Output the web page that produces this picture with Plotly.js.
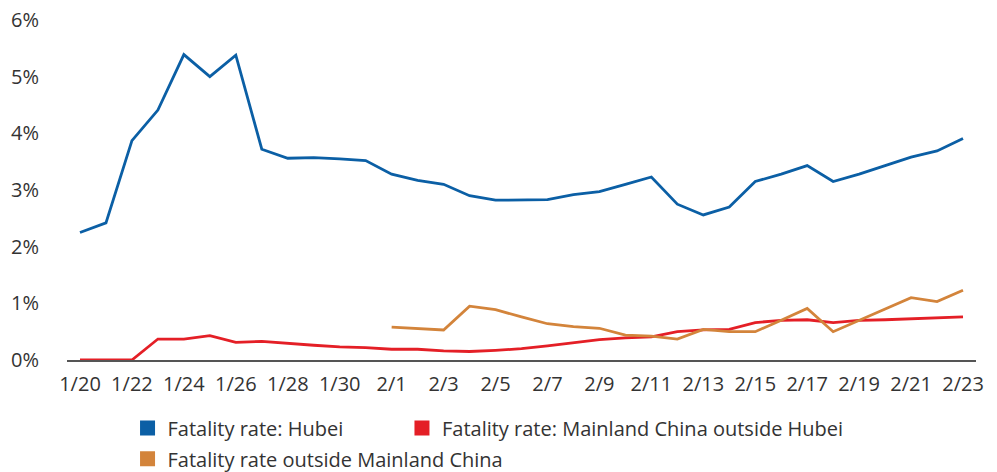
<!DOCTYPE html>
<html lang="en">
<head>
    <meta charset="UTF-8">
    <title>Fatality rates</title>
    <script src="https://cdn.plot.ly/plotly-3.0.1.min.js"></script>
    <style>
        body { margin: 0; padding: 0; background: #fff; }
        #plot { width: 997px; height: 472px; }
    </style>
</head>
<body>
    <div id="plot"></div>
    <script>
        // Dates (one per day)
        const days = ['1/20','1/21','1/22','1/23','1/24','1/25','1/26','1/27','1/28','1/29','1/30','1/31',
                      '2/1','2/2','2/3','2/4','2/5','2/6','2/7','2/8','2/9','2/10','2/11','2/12','2/13',
                      '2/14','2/15','2/16','2/17','2/18','2/19','2/20','2/21','2/22','2/23'];
        const tickDays = ['1/20','1/22','1/24','1/26','1/28','1/30','2/1','2/3','2/5','2/7','2/9','2/11',
                          '2/13','2/15','2/17','2/19','2/21','2/23'];

        // Fatality rate values, in %
        const hubei = [2.25, 2.42, 3.87, 4.41, 5.39, 5.00, 5.38, 3.72, 3.56, 3.57, 3.55, 3.52,
                       3.28, 3.17, 3.10, 2.90, 2.82, 2.82, 2.83, 2.92, 2.97, 3.10, 3.23, 2.75, 2.56,
                       2.70, 3.15, 3.28, 3.43, 3.15, 3.28, 3.43, 3.58, 3.69, 3.91];
        const outsideHubei = [0.0, 0.0, 0.0, 0.37, 0.37, 0.43, 0.31, 0.33, 0.29, 0.26, 0.23, 0.22,
                              0.19, 0.19, 0.16, 0.15, 0.17, 0.20, 0.25, 0.31, 0.36, 0.39, 0.41, 0.50, 0.53,
                              0.54, 0.66, 0.70, 0.71, 0.66, 0.70, 0.71, 0.73, 0.74, 0.76];
        const outsideChina = [null, null, null, null, null, null, null, null, null, null, null, null,
                              0.58, 0.56, 0.53, 0.95, 0.89, 0.76, 0.64, 0.59, 0.56, 0.44, 0.42, 0.37, 0.54,
                              0.50, 0.50, 0.70, 0.91, 0.50, 0.70, 0.91, 1.10, 1.03, 1.23];

        const names = ['Fatality rate: Hubei', 'Fatality rate: Mainland China outside Hubei', 'Fatality rate outside Mainland China'];
        const colors = ['#0b5fa5', '#e41f26', '#d3843b'];
        const series = [hubei, outsideHubei, outsideChina];
        const legendIds = ['legend', 'legend2', 'legend3'];

        const data = [];
        series.forEach((s, i) => {
            data.push({
                x: days, y: s, type: 'scatter', mode: 'lines',
                line: { color: colors[i], width: 2.8 },
                showlegend: false, hoverinfo: 'x+y'
            });
        });
        // square legend swatches, one legend box each so they sit like the original
        names.forEach((n, i) => {
            data.push({
                x: [null], y: [null], type: 'scatter', mode: 'markers', name: n,
                legend: legendIds[i],
                marker: { symbol: 'square', size: 15, color: colors[i] }
            });
        });

        const legendBase = {
            orientation: 'h', xanchor: 'left', yanchor: 'top',
            font: { size: 20, color: '#333' },
            bgcolor: 'rgba(0,0,0,0)'
        };

        const layout = {
            width: 997, height: 472,
            margin: { l: 67, r: 21, t: 20, b: 112, autoexpand: false },
            paper_bgcolor: '#fff', plot_bgcolor: '#fff',
            font: { family: '"Open Sans", sans-serif', size: 20, color: '#333' },
            xaxis: {
                type: 'category', categoryorder: 'array', categoryarray: days,
                range: [-0.5, days.length - 0.5],
                tickvals: tickDays, ticktext: tickDays,
                showgrid: false, zeroline: false,
                showline: true, linecolor: '#555', linewidth: 1.5,
                ticks: '', ticklabelstandoff: 5
            },
            yaxis: {
                range: [0, 6], dtick: 1, ticksuffix: '%',
                showgrid: false, zeroline: false, showline: false,
                ticks: '', ticklabelstandoff: 27
            },
            legend: Object.assign({ x: 0.0666, y: -0.143 }, legendBase),
            legend2: Object.assign({ x: 0.3685, y: -0.143 }, legendBase),
            legend3: Object.assign({ x: 0.0666, y: -0.233 }, legendBase)
        };

        Plotly.newPlot('plot', data, layout, { displayModeBar: false, staticPlot: true });
    </script>
</body>
</html>
